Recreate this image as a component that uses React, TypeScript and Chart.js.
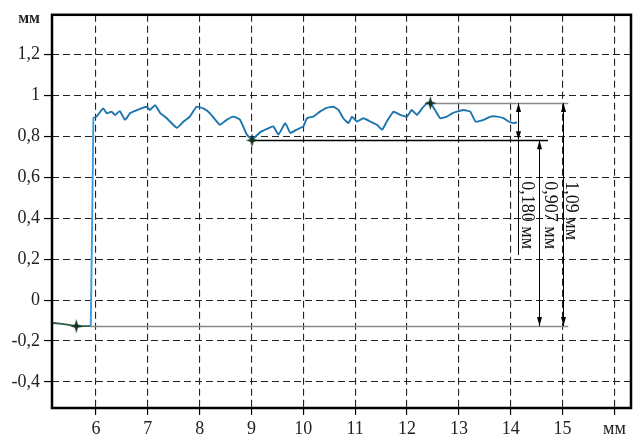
import React, { useEffect, useRef } from 'react';
import { Chart, registerables } from 'chart.js';

Chart.register(...registerables);

// Profile (x in mm, y in mm)
const profileX = [
  5.15, 5.3, 5.45, 5.62, 5.8, 5.9, 5.95, 6.01, 6.14, 6.21, 6.3, 6.37, 6.46, 6.56, 6.66, 6.79,
  6.98, 7.04, 7.14, 7.24, 7.36, 7.56, 7.69, 7.81, 7.94, 8.07, 8.2, 8.39, 8.52, 8.65, 8.78,
  8.91, 9.01, 9.17, 9.3, 9.42, 9.52, 9.65, 9.75, 9.87, 10.0, 10.07, 10.19, 10.32, 10.45,
  10.58, 10.68, 10.77, 10.87, 10.94, 11.03, 11.16, 11.29, 11.42, 11.52, 11.61, 11.74,
  11.87, 12.0, 12.09, 12.19, 12.29, 12.38, 12.45, 12.54, 12.64, 12.77, 12.87, 12.96,
  13.09, 13.22, 13.32, 13.48, 13.61, 13.74, 13.86, 13.96, 14.06, 14.12,
];
const profileY = [
  -0.112, -0.115, -0.12, -0.127, -0.127, -0.125, 0.888, 0.896, 0.936, 0.912, 0.92, 0.904,
  0.923, 0.88, 0.913, 0.928, 0.944, 0.928, 0.952, 0.913, 0.889, 0.841, 0.872, 0.896, 0.944,
  0.936, 0.912, 0.856, 0.88, 0.896, 0.88, 0.808, 0.784, 0.82, 0.836, 0.848, 0.808, 0.864,
  0.816, 0.832, 0.848, 0.888, 0.896, 0.92, 0.939, 0.944, 0.928, 0.888, 0.864, 0.896, 0.872,
  0.888, 0.872, 0.856, 0.832, 0.872, 0.92, 0.904, 0.896, 0.928, 0.904, 0.936, 0.96, 0.962,
  0.928, 0.888, 0.896, 0.912, 0.92, 0.928, 0.92, 0.872, 0.88, 0.896, 0.896, 0.888, 0.872,
  0.864, 0.868,
];

// Marked extreme points
const markerX = [5.62, 9.01, 12.45];
const markerY = [-0.127, 0.78, 0.962];

// Axis ticks
const xTicks = [6, 7, 8, 9, 10, 11, 12, 13, 14, 15, 16];
const yTicks = [-0.4, -0.2, 0, 0.2, 0.4, 0.6, 0.8, 1, 1.2];
const unitLabel = 'мм';

// Reference (horizontal) lines: level, from, to
const refLevel = [0.962, 0.78, -0.127];
const refFrom = [12.45, 9.01, 5.9];
const refTo = [15.11, 14.72, 15.11];

// Dimension arrows: x, top, bottom, label
const dimX = [14.14, 14.55, 15.0];
const dimTop = [0.962, 0.78, 0.962];
const dimBottom = [0.78, -0.127, -0.127];
const dimExtendTo = [0.22, -0.127, -0.127];
const dimLabels = ['0,180 мм', '0,907 мм', '1,09 мм'];
const dimTextX = [14.31, 14.75, 15.15];
const dimTextTop = [0.58, 0.58, 0.58];

const FONT = '"Liberation Serif", "DejaVu Serif", serif';

function makeStar(): HTMLCanvasElement {
  const c = document.createElement('canvas');
  c.width = 13;
  c.height = 15;
  const g = c.getContext('2d')!;
  const cx = 6.5, cy = 7.5;
  g.fillStyle = '#12321f';
  g.beginPath();
  g.moveTo(cx, cy - 7);
  g.lineTo(cx + 1.6, cy - 1.6);
  g.lineTo(cx + 6, cy);
  g.lineTo(cx + 1.6, cy + 1.6);
  g.lineTo(cx, cy + 7);
  g.lineTo(cx - 1.6, cy + 1.6);
  g.lineTo(cx - 6, cy);
  g.lineTo(cx - 1.6, cy - 1.6);
  g.closePath();
  g.fill();
  return c;
}

function arrowHead(ctx: CanvasRenderingContext2D, x: number, y: number, dir: number) {
  ctx.beginPath();
  ctx.moveTo(x, y);
  ctx.lineTo(x - 2.5, y - dir * 9);
  ctx.lineTo(x + 2.5, y - dir * 9);
  ctx.closePath();
  ctx.fill();
}

const annotations = {
  id: 'annotations',
  beforeDatasetsDraw(chart: any) {
    const { ctx, scales } = chart;
    const xs = scales.x, ys = scales.y;
    ctx.save();
    refLevel.forEach((lv, i) => {
      ctx.strokeStyle = i === 1 ? '#000' : '#8a8a8a';
      ctx.lineWidth = 1.3;
      const y = Math.round(ys.getPixelForValue(lv)) + 0.5;
      ctx.beginPath();
      ctx.moveTo(xs.getPixelForValue(refFrom[i]), y);
      ctx.lineTo(xs.getPixelForValue(refTo[i]), y);
      ctx.stroke();
    });
    ctx.strokeStyle = '#000';
    ctx.fillStyle = '#000';
    ctx.lineWidth = 1;
    dimX.forEach((dx, i) => {
      const x = Math.round(xs.getPixelForValue(dx)) + 0.5;
      const yt = ys.getPixelForValue(dimTop[i]);
      const yb = ys.getPixelForValue(dimBottom[i]);
      const ye = ys.getPixelForValue(dimExtendTo[i]);
      ctx.beginPath();
      ctx.moveTo(x, yt);
      ctx.lineTo(x, Math.max(yb, ye));
      ctx.stroke();
      arrowHead(ctx, x, yt, -1);
      arrowHead(ctx, x, yb, 1);
    });
    ctx.restore();
  },
  afterDatasetsDraw(chart: any) {
    const { ctx, scales } = chart;
    const xs = scales.x, ys = scales.y;
    ctx.save();
    ctx.fillStyle = '#111';
    ctx.font = `18px ${FONT}`;
    ctx.textAlign = 'left';
    ctx.textBaseline = 'middle';
    dimLabels.forEach((t, i) => {
      ctx.save();
      ctx.translate(xs.getPixelForValue(dimTextX[i]), ys.getPixelForValue(dimTextTop[i]));
      ctx.rotate(Math.PI / 2);
      ctx.fillText(t, 0, 0);
      ctx.restore();
    });
    ctx.restore();
  },
  afterDraw(chart: any) {
    const { ctx, chartArea } = chart;
    ctx.save();
    ctx.strokeStyle = '#000';
    ctx.lineWidth = 2.5;
    ctx.strokeRect(chartArea.left, chartArea.top, chartArea.right - chartArea.left, chartArea.bottom - chartArea.top);
    ctx.fillStyle = '#222';
    ctx.font = `bold 16px ${FONT}`;
    ctx.textAlign = 'right';
    ctx.textBaseline = 'middle';
    ctx.fillText(unitLabel, chartArea.left - 12, chartArea.top + 4);
    ctx.restore();
  },
};

export default function App() {
  const ref = useRef<HTMLCanvasElement>(null);
  useEffect(() => {
    if (!ref.current) return;
    const star = makeStar();
    const chart = new Chart(ref.current, {
      type: 'scatter',
      data: {
        datasets: [
          {
            type: 'line',
            data: profileX.map((x, i) => ({ x, y: profileY[i] })),
            borderColor: '#1c74ad',
            borderWidth: 1.9,
            pointRadius: 0,
            tension: 0.12,
            segment: {
              borderColor: (c: any) =>
                c.p1.parsed.x <= 5.9 ? '#2b5f48' : c.p0.parsed.x <= 5.9 ? '#3a9be0' : '#1c74ad',
            },
            order: 2,
          } as any,
          {
            data: markerX.map((x, i) => ({ x, y: markerY[i] })),
            pointStyle: star,
            pointRadius: 6,
            order: 1,
          } as any,
        ],
      },
      options: {
        animation: false,
        responsive: true,
        maintainAspectRatio: false,
        layout: { padding: { top: 9, right: 8, left: 0, bottom: 0 } },
        plugins: { legend: { display: false }, tooltip: { enabled: false } },
        scales: {
          x: {
            type: 'linear',
            min: 5.152,
            max: 16.32,
            afterBuildTicks: (axis: any) => {
              axis.ticks = xTicks.map((v) => ({ value: v }));
            },
            afterFit: (axis: any) => {
              axis.height = 28;
            },
            ticks: {
              autoSkip: false,
              maxRotation: 0,
              padding: 3,
              color: '#222',
              font: { family: FONT, size: 18 },
              callback: (v: any) => (v === 16 ? unitLabel : String(v).replace('.', ',')),
            },
            grid: {
              color: '#222',
              lineWidth: 1.1,
              tickLength: 7,
              tickColor: '#000',
              tickWidth: 1.2,
              tickBorderDash: [],
            },
            border: { display: false, dash: [7, 4] },
          },
          y: {
            type: 'linear',
            min: -0.527,
            max: 1.393,
            afterBuildTicks: (axis: any) => {
              axis.ticks = yTicks.map((v) => ({ value: v }));
            },
            afterFit: (axis: any) => {
              axis.width = 52;
            },
            ticks: {
              autoSkip: false,
              padding: 4,
              color: '#222',
              font: { family: FONT, size: 18 },
              callback: (v: any) => String(Math.round(v * 10) / 10).replace('.', ','),
            },
            grid: {
              color: '#222',
              lineWidth: 1.1,
              tickLength: 8,
              tickColor: '#000',
              tickWidth: 1.2,
              tickBorderDash: [],
            },
            border: { display: false, dash: [7, 4] },
          },
        },
      },
      plugins: [annotations],
    });
    return () => chart.destroy();
  }, []);
  return (
    <div style={{ position: 'fixed', left: 0, top: 0, width: 639, height: 436, background: '#fff' }}>
      <canvas ref={ref} />
    </div>
  );
}
